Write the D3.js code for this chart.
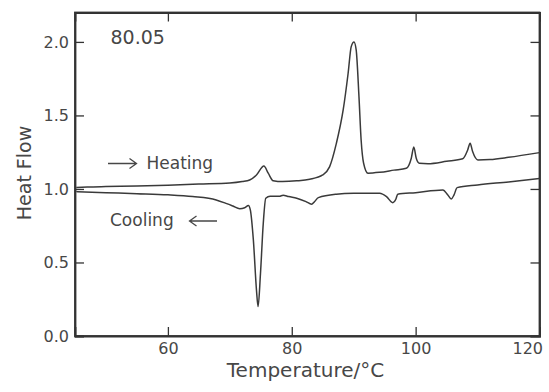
<!DOCTYPE html>
<html>
<head>
<meta charset="utf-8">
<script src="https://cdn.jsdelivr.net/npm/d3@7"></script>
<style>
    body { margin: 0; background: #fff; }
    text { font-family: "DejaVu Sans", sans-serif; fill: #474747; }
    .axis path, .axis line { stroke: #333; }
</style>
</head>
<body>
<div id="dsc-chart"></div>
<script>

// heating scan (temperature, heat flow)
var heatT = [45.2, 47, 50, 55, 60, 65, 70, 72, 73.2, 74.3, 75.5, 76.2, 77.0, 78.5, 80.8, 82.9, 85.0, 86.1, 87.2, 88.3,
    89.1, 89.6, 90.05, 90.4, 90.85, 91.2, 91.6, 92.3, 94.2, 96.5, 98.5, 99.3, 99.7, 100.1, 100.6, 102, 105, 107.6,
    108.4, 108.8, 109.2, 110.05, 112, 115, 120];
var heatV = [1.010, 1.013, 1.016, 1.020, 1.026, 1.033, 1.040, 1.050, 1.061, 1.095, 1.156, 1.107, 1.056, 1.050, 1.055,
    1.066, 1.095, 1.150, 1.310, 1.537, 1.787, 1.968, 2.000, 1.946, 1.628, 1.333, 1.175, 1.107, 1.113, 1.128, 1.141,
    1.209, 1.285, 1.209, 1.175, 1.172, 1.188, 1.205, 1.265, 1.311, 1.254, 1.197, 1.200, 1.215, 1.247];

// cooling scan
var coolT = [45.2, 50, 55, 60, 64, 67.8, 69.5, 70.5, 71.6, 72.4, 73.0, 73.3, 73.8, 74.3, 74.56, 74.95, 75.4, 75.8,
    76.5, 78.0, 78.6, 79.5, 80.8, 82.3, 83.2, 83.7, 84.3, 87.2, 90, 94.2, 95.3, 96.3, 96.8, 97.1, 100, 104.4, 105.2,
    105.75, 106.2, 106.7, 110, 115, 120];
var coolV = [0.982, 0.975, 0.968, 0.960, 0.948, 0.925, 0.900, 0.884, 0.866, 0.872, 0.888, 0.860, 0.653, 0.313, 0.200,
    0.426, 0.767, 0.937, 0.950, 0.950, 0.958, 0.948, 0.937, 0.914, 0.896, 0.915, 0.941, 0.964, 0.970, 0.971, 0.948,
    0.907, 0.930, 0.964, 0.975, 0.993, 0.959, 0.932, 0.960, 1.009, 1.027, 1.048, 1.071];

var xTicks = [60, 80, 100, 120];
var yTicks = [0.0, 0.5, 1.0, 1.5, 2.0];

var margin = {top: 12.5, right: 9.5, bottom: 56, left: 75};
var width = 549 - margin.left - margin.right;
var height = 392 - margin.top - margin.bottom;

var svg = d3.select("#dsc-chart").append("svg")
    .attr("width", 549)
    .attr("height", 392)
    .append("g")
    .attr("transform", "translate(" + margin.left + "," + margin.top + ")");

var x = d3.scaleLinear().domain([45, 120]).range([0, width]);
var y = d3.scaleLinear().domain([0, 2.2]).range([height, 0]);

// ticks on all four sides, pointing in
var xAxisG = svg.append("g")
    .attr("class", "axis")
    .attr("transform", "translate(0," + height + ")")
    .call(d3.axisBottom(x).tickValues(xTicks).tickSize(-9).tickPadding(7).tickFormat(d3.format("d")));
svg.append("g")
    .attr("class", "axis")
    .call(d3.axisTop(x).tickValues(xTicks).tickSize(-9).tickFormat(""));
svg.append("g")
    .attr("class", "axis")
    .call(d3.axisLeft(y).tickValues(yTicks).tickSize(-9).tickPadding(6).tickFormat(d3.format(".1f")));
svg.append("g")
    .attr("class", "axis")
    .attr("transform", "translate(" + width + ",0)")
    .call(d3.axisRight(y).tickValues(yTicks).tickSize(-9).tickFormat(""));

svg.selectAll(".axis path").attr("stroke-width", 1.8);
svg.selectAll(".axis line").attr("stroke-width", 1.3);
svg.selectAll(".axis text").attr("font-size", 16).attr("fill", "#474747")
    .style("font-family", "'DejaVu Sans', sans-serif");

// last label sits flush with the right edge, as in the original
xAxisG.selectAll(".tick text")
    .filter(function (d) { return d === 120; })
    .attr("text-anchor", "end")
    .attr("x", 3);

// box
svg.append("rect")
    .attr("width", width)
    .attr("height", height)
    .attr("fill", "none")
    .attr("stroke", "#333")
    .attr("stroke-width", 1.8);

var line = d3.line()
    .x(function (d) { return x(d[0]); })
    .y(function (d) { return y(d[1]); })
    .curve(d3.curveMonotoneX);

svg.append("path")
    .datum(d3.zip(heatT, heatV))
    .attr("d", line)
    .attr("fill", "none")
    .attr("stroke", "#3a3a3a")
    .attr("stroke-width", 1.5);

svg.append("path")
    .datum(d3.zip(coolT, coolV))
    .attr("d", line)
    .attr("fill", "none")
    .attr("stroke", "#3a3a3a")
    .attr("stroke-width", 1.5);

// labels
svg.append("text")
    .attr("x", 110.5 - margin.left)
    .attr("y", 44 - margin.top)
    .attr("font-size", 19)
    .text("80.05");

svg.append("text")
    .attr("x", 146.5 - margin.left)
    .attr("y", 168.5 - margin.top)
    .attr("font-size", 17)
    .text("Heating");

svg.append("text")
    .attr("x", 110 - margin.left)
    .attr("y", 226 - margin.top)
    .attr("font-size", 17)
    .text("Cooling");

// arrows
function arrow(x1, x2, yy) {
    var dir = x2 > x1 ? -1 : 1;
    svg.append("path")
        .attr("d", "M" + (x1 - margin.left) + "," + (yy - margin.top) + "H" + (x2 - margin.left) +
            "M" + (x2 - margin.left + dir * 7) + "," + (yy - margin.top - 5) + "L" + (x2 - margin.left) + "," + (yy - margin.top) +
            "L" + (x2 - margin.left + dir * 7) + "," + (yy - margin.top + 5))
        .attr("fill", "none")
        .attr("stroke", "#474747")
        .attr("stroke-width", 1.3);
}
arrow(108, 136.5, 163.5);
arrow(217, 189.5, 221);

svg.append("text")
    .attr("x", 305.5 - margin.left)
    .attr("y", 377 - margin.top)
    .attr("text-anchor", "middle")
    .attr("font-size", 20)
    .text("Temperature/°C");

svg.append("text")
    .attr("transform", "translate(" + (31 - margin.left) + "," + (173 - margin.top) + ") rotate(-90)")
    .attr("text-anchor", "middle")
    .attr("font-size", 19)
    .text("Heat Flow");

</script>
</body>
</html>
